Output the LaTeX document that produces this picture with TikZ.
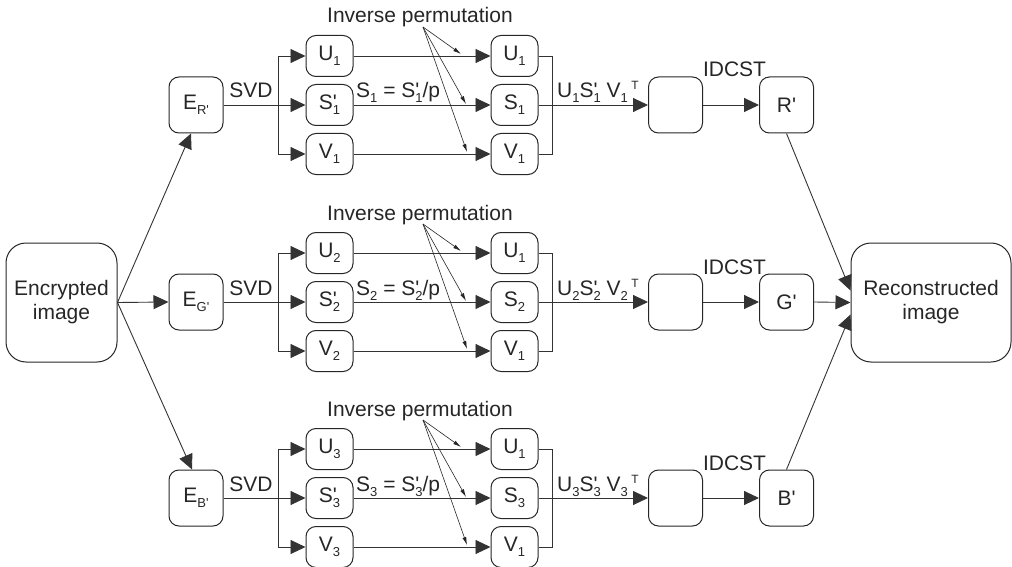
\documentclass[tikz,border=0pt]{standalone}
\usepackage{fontspec}
\setmainfont{Liberation Sans}
\usetikzlibrary{arrows.meta,calc}
\newcommand\lsub[1]{\raisebox{-5pt}{\fontsize{13}{13}\selectfont #1}}
\newcommand\lsup[1]{\raisebox{8pt}{\fontsize{12}{12}\selectfont #1}}
\newcommand\pr{\textquotesingle}
\tikzset{
  every node/.style={font=\fontsize{21}{24}\selectfont, text=black!85},
  box/.style={draw=black!85, line width=1pt, rounded corners=10pt, minimum width=47pt, minimum height=41pt, inner sep=0pt},
  ebox/.style={box, minimum width=54pt, minimum height=56pt},
  bigbox/.style={draw=black!85, line width=1pt, rounded corners=20pt, minimum width=111pt, minimum height=119pt, align=center, inner sep=0pt},
  conn/.style={line width=0.9pt, draw=black!80},
  arr/.style={conn, -{Triangle[length=15pt,width=14pt]}},
  fan/.style={line width=0.6pt, draw=black!85, -{Latex[length=8pt,width=4pt]}},
  lbl/.style={inner sep=0pt}
}
\begin{document}
\begin{tikzpicture}[x=1pt,y=-1pt]
\useasboundingbox (0,0) rectangle (1012,567);
\foreach \yc/\n/\cc in {105/1/R, 302/2/G, 498/3/B}{
  \node[ebox] (E\n) at (196,\yc) {E\lsub{\cc\pr}};
  \node[box] (U\n) at (329.5,\yc-49) {U\lsub{\n}};
  \node[box] (S\n) at (329.5,\yc) {S\rlap{\pr}\lsub{\n}};
  \node[box] (V\n) at (329.5,\yc+49) {V\lsub{\n}};
  \node[box] (Ua\n) at (514.5,\yc-49) {U\lsub{1}};
  \node[box] (Sa\n) at (514.5,\yc) {S\lsub{\n}};
  \node[box] (Va\n) at (514.5,\yc+49) {V\lsub{1}};
  \node[ebox] (X\n) at (675.5,\yc) {};
  \node[ebox] (O\n) at (786.5,\yc) {\cc\pr};
  \coordinate (b\n) at (278,\yc);
  \coordinate (m\n) at (552,\yc);
  \draw[conn] (E\n.east) -- (b\n);
  \draw[arr] (b\n) |- (U\n.west);
  \draw[arr] (b\n) -- (S\n.west);
  \draw[arr] (b\n) |- (V\n.west);
  \draw[arr] (U\n.east) -- (Ua\n.west);
  \draw[arr] (S\n.east) -- (Sa\n.west);
  \draw[arr] (V\n.east) -- (Va\n.west);
  \draw[conn] (Ua\n.east) -| (m\n);
  \draw[conn] (Va\n.east) -| (m\n);
  \draw[arr] (Sa\n.east) -- (X\n.west);
  \draw[arr] (X\n.east) -- (O\n.west);
  \node[lbl, anchor=base] (svd\n) at (251,\yc-7) {SVD};
  \node[lbl, anchor=base] (ip\n) at (420,\yc-82) {Inverse permutation};
  \node[lbl, anchor=base west] (eq\n) at (356,\yc-7) {S\lsub{\n} = S\rlap{\pr}\lsub{\n}/p};
  \node[lbl, anchor=base west] (pr\n) at (557,\yc-7) {U\lsub{\n}S\rlap{\pr}\lsub{\n} V\lsub{\n}\,\lsup{T}};
  \node[lbl, anchor=base] (id\n) at (734.5,\yc-28) {IDCST};
  \coordinate (f\n) at (423,\yc-78);
  \coordinate (fu\n) at (461,\yc-51);
  \coordinate (fs\n) at (466,\yc-1);
  \coordinate (fv\n) at (467,\yc+47);
  \draw[fan] (f\n) -- (fu\n);
  \draw[fan] (f\n) -- (fs\n);
  \draw[fan] (f\n) -- (fv\n);
}
\node[bigbox] (enc) at (61.5,302.5) {Encrypted\\image};
\node[bigbox, minimum width=160pt] (rec) at (931,302.5) {Reconstructed\\image};
\draw[arr] (enc.east) -- ([xshift=-5pt]E1.south);
\draw[arr] (enc.east) -- (E2.west);
\draw[arr] (enc.east) -- ([xshift=-4pt]E3.north);
\draw[arr] (O1.south) -- ([yshift=12pt]rec.west);
\draw[arr] (O2.east) -- (rec.west);
\draw[arr] (O3.north) -- ([yshift=-12pt]rec.west);
\end{tikzpicture}
\end{document}
